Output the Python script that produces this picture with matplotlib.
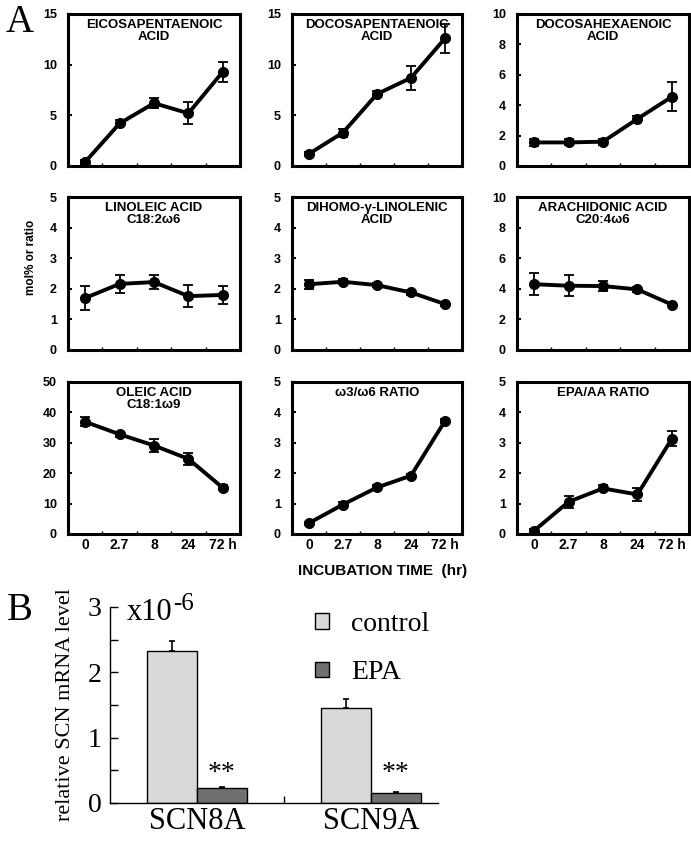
import matplotlib
matplotlib.use("Agg")
import matplotlib.pyplot as plt
import numpy as np

# ---- data: panel A (fatty acids, mean +/- error) ----
times = ["0", "2.7", "8", "24", "72 h"]
titles = ["EICOSAPENTAENOIC\nACID", "DOCOSAPENTAENOIC\nACID", "DOCOSAHEXAENOIC\nACID",
          "LINOLEIC ACID\nC18:2ω6", "DIHOMO-γ-LINOLENIC\nACID", "ARACHIDONIC ACID\nC20:4ω6",
          "OLEIC ACID\nC18:1ω9", "ω3/ω6 RATIO", "EPA/AA RATIO"]
epa = [0.4, 4.2, 6.2, 5.2, 9.3]
epa_err = [0.2, 0.3, 0.5, 1.1, 1.0]
dpa = [1.2, 3.3, 7.1, 8.7, 12.6]
dpa_err = [0.2, 0.4, 0.3, 1.2, 1.4]
dha = [1.55, 1.55, 1.6, 3.1, 4.55]
dha_err = [0.25, 0.2, 0.2, 0.2, 0.95]
la = [1.70, 2.16, 2.22, 1.76, 1.80]
la_err = [0.38, 0.3, 0.24, 0.37, 0.3]
dgla = [2.15, 2.23, 2.12, 1.88, 1.5]
dgla_err = [0.15, 0.08, 0.07, 0.08, 0.05]
aa = [4.3, 4.2, 4.18, 3.96, 2.97]
aa_err = [0.72, 0.7, 0.3, 0.15, 0.1]
oa = [36.9, 32.8, 29.1, 24.7, 15.2]
oa_err = [1.5, 0.8, 2.2, 2.0, 0.8]
w3w6 = [0.36, 0.97, 1.53, 1.92, 3.72]
w3w6_err = [0.05, 0.08, 0.08, 0.06, 0.07]
epa_aa = [0.11, 1.06, 1.5, 1.3, 3.13]
epa_aa_err = [0.05, 0.2, 0.1, 0.2, 0.25]
ymax = [15, 15, 10, 5, 5, 10, 50, 5, 5]
ystep = [5, 5, 2, 1, 1, 2, 10, 1, 1]

# ---- data: panel B ----
genes = ["SCN8A", "SCN9A"]
control = [2.32, 1.45]
control_err = [0.16, 0.14]
epa_b = [0.235, 0.16]
epa_b_err = [0.005, 0.005]

W, H = 691, 841
fig = plt.figure(figsize=(W / 100, H / 100), dpi=100)

def rect(l, t, r, b):
    return [l / W, 1 - b / H, (r - l) / W, (b - t) / H]

sans = "Liberation Sans"
serif = "Liberation Serif"

cols = [(68, 240), (292, 462), (517, 689)]
rows = [(14, 166), (197, 350), (382, 534)]
series = [(epa, epa_err), (dpa, dpa_err), (dha, dha_err),
          (la, la_err), (dgla, dgla_err), (aa, aa_err),
          (oa, oa_err), (w3w6, w3w6_err), (epa_aa, epa_aa_err)]

x = np.arange(len(times))
for i, (vals, errs) in enumerate(series):
    r, c = divmod(i, 3)
    ax = fig.add_axes(rect(cols[c][0], rows[r][0], cols[c][1], rows[r][1]))
    ax.errorbar(x, vals, yerr=errs, color="black", lw=2.8, marker="o", ms=7,
                elinewidth=1.3, capsize=3.5, capthick=1.3)
    ax.set_xlim(-0.5, 4.5)
    ax.set_ylim(0, ymax[i])
    ax.set_yticks(np.arange(0, ymax[i] + 0.01, ystep[i]))
    ax.set_xticks(x)
    ax.set_xticks(x[:-1] + 0.5, minor=True)
    for sp in ax.spines.values():
        sp.set_linewidth(2.2)
    ax.tick_params(axis="y", direction="in", length=3, width=1.5, pad=8)
    ax.tick_params(axis="x", which="major", length=0, pad=3)
    ax.tick_params(axis="x", which="minor", direction="in", length=2, width=1)
    for lab in ax.get_yticklabels():
        lab.set_fontfamily(sans)
        lab.set_fontweight("bold")
        lab.set_fontsize(9)
    if r == 2:
        ax.set_xticklabels(times, fontfamily=sans, fontweight="bold", fontsize=10)
    else:
        ax.set_xticklabels([])
    ax.text(0.5, 0.97, titles[i], transform=ax.transAxes, ha="center", va="top",
            fontfamily=sans, fontweight="bold", fontsize=9.5, linespacing=1.05)

fig.text(31 / W, 1 - 257 / H, "mol% or ratio", rotation=90, ha="center", va="center",
         fontfamily=sans, fontweight="bold", fontsize=8.5)
fig.text(383 / W, 1 - 571 / H, "INCUBATION TIME  (hr)", ha="center", va="center",
         fontfamily=sans, fontweight="bold", fontsize=11)
fig.text(20 / W, 1 - 23 / H, "A", ha="center", va="center", fontfamily=serif, fontsize=28)
fig.text(20 / W, 1 - 611 / H, "B", ha="center", va="center", fontfamily=serif, fontsize=28)

# ---- panel B ----
axb = fig.add_axes(rect(110, 607, 438, 803))
bw = 0.287
gx = np.arange(len(genes))
zero = [0] * len(genes)
axb.bar(gx - bw / 2, control, bw, yerr=[zero, control_err], color="#d9d9d9",
        edgecolor="black", linewidth=1,
        error_kw=dict(elinewidth=1.2, capsize=2.5, capthick=1.2), label="control")
axb.bar(gx + bw / 2, epa_b, bw, yerr=[zero, epa_b_err], color="#707070",
        edgecolor="black", linewidth=1,
        error_kw=dict(elinewidth=1.2, capsize=2, capthick=1.2), label="EPA")
star_y = 0.26
for k in range(len(genes)):
    axb.text(gx[k] + bw / 2, star_y, "**", ha="center", va="bottom",
             fontfamily=serif, fontsize=20)
axb.set_xlim(-0.5, 1.385)
axb.set_ylim(0, 3)
axb.set_yticks([0, 1, 2, 3])
axb.set_yticks([0.5, 1.5, 2.5], minor=True)
axb.set_xticks(gx)
axb.set_xticks([0.5], minor=True)
axb.set_xticklabels(genes, fontfamily=serif, fontsize=22)
for lab in axb.get_yticklabels():
    lab.set_fontfamily(serif)
    lab.set_fontsize(20)
axb.spines["top"].set_visible(False)
axb.spines["right"].set_visible(False)
axb.spines["left"].set_linewidth(1)
axb.spines["bottom"].set_linewidth(1)
axb.tick_params(axis="y", which="both", direction="in", length=6, width=1, pad=6)
axb.tick_params(axis="x", which="major", length=0, pad=3)
axb.tick_params(axis="x", which="minor", direction="in", length=5, width=1)
axb.set_ylabel("relative SCN mRNA level", fontfamily=serif, fontsize=16, labelpad=9)

# scale factor "x10^-6" with a plain hyphen in the exponent
x10 = fig.text(127 / W, 1 - 620 / H, "x10", ha="left", va="baseline",
               fontfamily=serif, fontsize=22)
fig.canvas.draw()
ext = x10.get_window_extent()
fig.text(ext.x1 / W + 0.001, 1 - 610 / H, "-6", ha="left", va="baseline",
         fontfamily=serif, fontsize=18)

axb.legend(loc="upper left", bbox_to_anchor=(290 / W, 1 - 587 / H),
           bbox_transform=fig.transFigure, frameon=False, handlelength=0.5,
           handleheight=0.5, handletextpad=0.8, labelspacing=0.84,
           prop=dict(family=serif, size=20))

fig.savefig("out.png", dpi=100)
